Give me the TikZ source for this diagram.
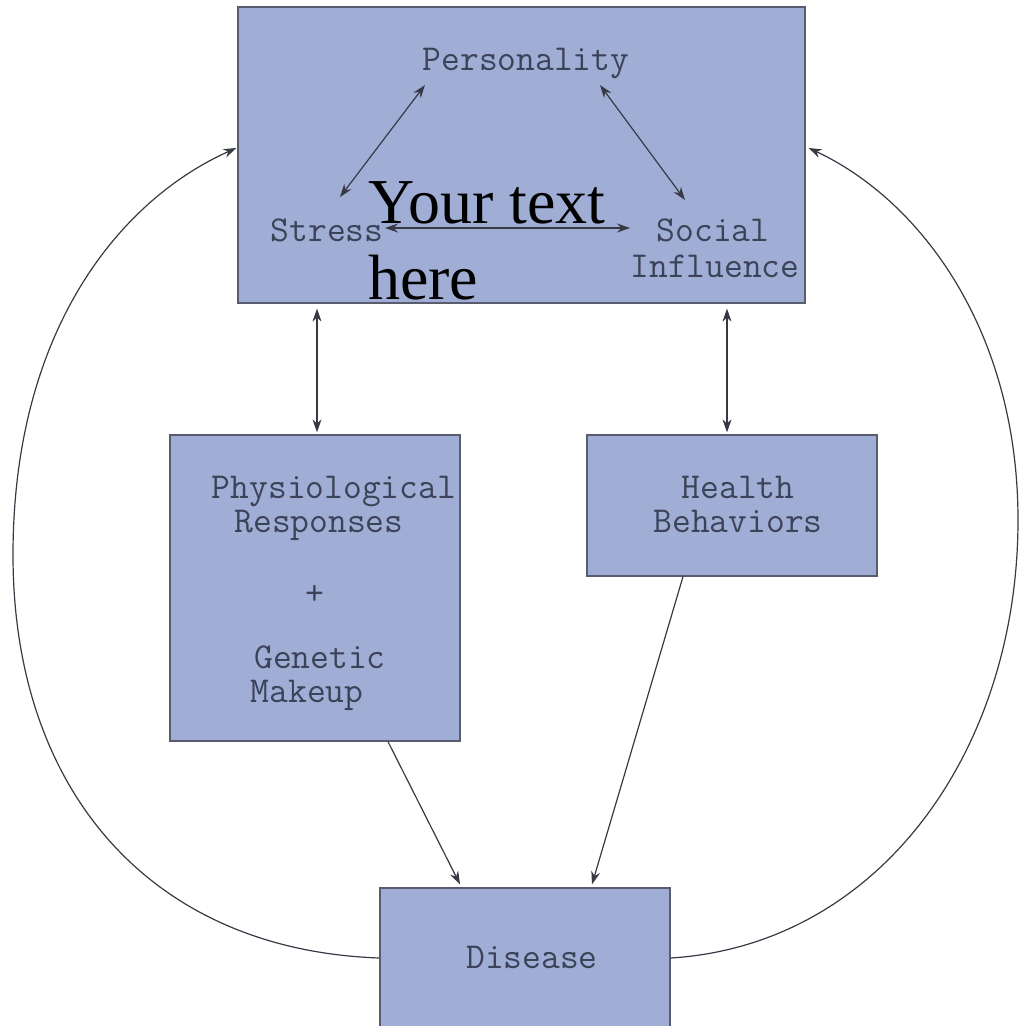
\documentclass[tikz,border=0pt]{standalone}
\usepackage{fontspec}
\newfontfamily\serifbig{Liberation Serif}
\usetikzlibrary{arrows.meta}
\definecolor{boxfill}{RGB}{160,174,213}
\definecolor{boxline}{RGB}{88,92,108}
\definecolor{txt}{RGB}{60,66,88}
\definecolor{arr}{RGB}{55,58,68}
\tikzset{
  blk/.style={draw=boxline, fill=boxfill, line width=1.3pt, inner sep=0pt},
  lbl/.style={font=\ttfamily\fontsize{36.5}{40}\selectfont, text=txt, inner sep=0pt, anchor=center, text height=21pt, text depth=6pt},
  con/.style={draw=arr, line width=1.2pt},
  tip/.style={-{Stealth[length=13pt,width=9pt]}},
  dbl/.style={{Stealth[length=13pt,width=9pt]}-{Stealth[length=13pt,width=9pt]}}
}
\begin{document}
\begin{tikzpicture}[x=1pt,y=-1pt]
\useasboundingbox (0,0) rectangle (1019,1026);
\begin{scope}
\clip (0,0) rectangle (1019,1026);
% boxes
\node[blk, minimum width=567pt, minimum height=296pt] (top) at (521.5,155) {};
\node[blk, minimum width=290pt, minimum height=306pt] (phys) at (315,588) {};
\node[blk, minimum width=290pt, minimum height=141pt] (hb) at (732,505.5) {};
\node[blk, minimum width=290pt, minimum height=140pt] (dis) at (525,958) {};
% labels
\node[lbl] (pers) at (526,63) {Personality};
\node[lbl] (stress) at (327,234) {Stress};
\node[lbl] (soc) at (713,234) {Social};
\node[lbl] (infl) at (715,270) {Influence};
\node[lbl] (ph1) at (334,491) {Physiological};
\node[lbl] (ph2) at (319,525) {Responses};
\node[lbl] (ph3) at (315,597) {+};
\node[lbl] (ph4) at (320,661) {Genetic};
\node[lbl] (ph5) at (307,695) {Makeup};
\node[lbl] (hb1) at (738,491) {Health};
\node[lbl] (hb2) at (738,525) {Behaviors};
\node[lbl] (dis1) at (532,961) {Disease};
% inner arrows
\coordinate (sp1) at (340,197);
\coordinate (sp2) at (425,85);
\coordinate (ps1) at (600,85);
\coordinate (ps2) at (685,200);
\coordinate (ss1) at (385,228);
\coordinate (ss2) at (630,228);
\draw[con,dbl] (sp1) -- (sp2);
\draw[con,dbl] (ps1) -- (ps2);
\draw[con,dbl] (ss1) -- (ss2);
% vertical links
\coordinate (pn) at ([xshift=2pt,yshift=2pt]phys.north);
\coordinate (hn) at ([xshift=-5pt,yshift=2pt]hb.north);
\draw[con,dbl] ([yshift=-5pt]top.south -| pn) -- (pn);
\draw[con,dbl] ([yshift=-5pt]top.south -| hn) -- (hn);
% to disease
\draw[con,tip] ([xshift=73pt]phys.south) -- ([xshift=-65pt,yshift=3pt]dis.north);
\draw[con,tip] ([xshift=-49pt]hb.south) -- ([xshift=67pt,yshift=3pt]dis.north);
% big loops
\coordinate (lmid) at (13,555);
\coordinate (rmid) at (1018,520);
\draw[con,tip] (dis.west) .. controls (150,950) and (13,790) .. (lmid)
  .. controls (13,330) and (120,200) .. ([xshift=-1pt,yshift=7pt]top.west);
\draw[con,tip] (dis.east) .. controls (880,945) and (1018,750) .. (rmid)
  .. controls (1018,330) and (920,200) .. ([xshift=3pt,yshift=7pt]top.east);
% overlay text
\node[font=\serifbig\fontsize{64}{76}\selectfont, text=black, align=left, inner sep=0pt, anchor=north west] (ovl) at (368,181) {Your text\\here};
\end{scope}
\end{tikzpicture}
\end{document}
